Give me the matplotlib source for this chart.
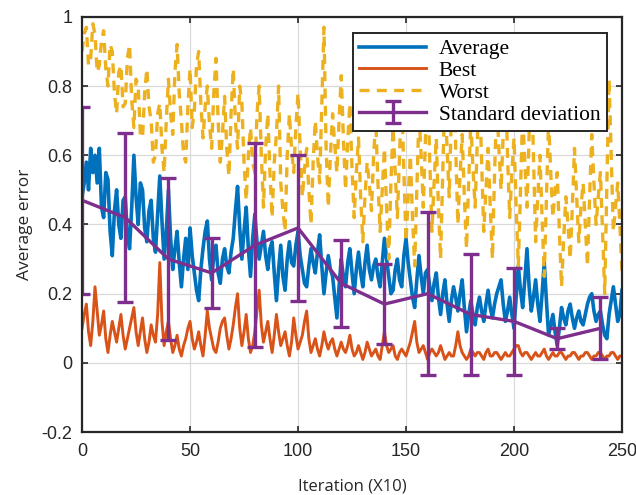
import numpy as np
import matplotlib
matplotlib.use("Agg")
import matplotlib.pyplot as plt
from matplotlib.ticker import FormatStrFormatter

# values, one per iteration step (x10), 0..250
average = [0.48, 0.52, 0.58, 0.50, 0.62, 0.55, 0.60, 0.52, 0.62, 0.45,
           0.42, 0.55, 0.53, 0.38, 0.31, 0.44, 0.50, 0.40, 0.36, 0.47,
           0.48, 0.37, 0.33, 0.45, 0.60, 0.48, 0.40, 0.52, 0.50, 0.39,
           0.35, 0.44, 0.47, 0.36, 0.32, 0.43, 0.54, 0.41, 0.30, 0.38,
           0.50, 0.36, 0.27, 0.33, 0.38, 0.29, 0.22, 0.30, 0.36, 0.27,
           0.39, 0.31, 0.26, 0.21, 0.18, 0.27, 0.33, 0.38, 0.41, 0.30,
           0.24, 0.31, 0.34, 0.26, 0.23, 0.30, 0.33, 0.28, 0.26, 0.32,
           0.36, 0.44, 0.51, 0.39, 0.30, 0.38, 0.45, 0.33, 0.25, 0.36,
           0.43, 0.35, 0.30, 0.34, 0.38, 0.31, 0.27, 0.33, 0.35, 0.26,
           0.18, 0.27, 0.34, 0.25, 0.21, 0.30, 0.35, 0.29, 0.28, 0.34,
           0.38, 0.31, 0.27, 0.23, 0.22, 0.28, 0.33, 0.29, 0.26, 0.32,
           0.37, 0.28, 0.20, 0.26, 0.31, 0.27, 0.25, 0.19, 0.13, 0.22,
           0.30, 0.25, 0.22, 0.29, 0.33, 0.26, 0.20, 0.27, 0.32, 0.26,
           0.22, 0.29, 0.34, 0.27, 0.24, 0.28, 0.30, 0.25, 0.22, 0.29,
           0.36, 0.30, 0.25, 0.20, 0.21, 0.27, 0.30, 0.24, 0.22, 0.31,
           0.36, 0.29, 0.24, 0.19, 0.16, 0.24, 0.31, 0.25, 0.20, 0.26,
           0.27, 0.22, 0.18, 0.23, 0.26, 0.19, 0.14, 0.20, 0.24, 0.17,
           0.12, 0.18, 0.22, 0.19, 0.15, 0.20, 0.24, 0.16, 0.09, 0.14,
           0.18, 0.14, 0.11, 0.16, 0.19, 0.15, 0.12, 0.17, 0.21, 0.16,
           0.13, 0.17, 0.20, 0.22, 0.24, 0.17, 0.12, 0.15, 0.19, 0.14,
           0.10, 0.19, 0.28, 0.21, 0.16, 0.24, 0.33, 0.22, 0.15, 0.19,
           0.24, 0.17, 0.12, 0.20, 0.29, 0.18, 0.08, 0.11, 0.14, 0.09,
           0.05, 0.10, 0.16, 0.13, 0.11, 0.15, 0.17, 0.13, 0.10, 0.13,
           0.15, 0.12, 0.11, 0.14, 0.17, 0.19, 0.20, 0.15, 0.12, 0.14,
           0.15, 0.11, 0.08, 0.07, 0.14, 0.18, 0.22, 0.17, 0.12, 0.14,
           0.21]

best = [0.10, 0.14, 0.17, 0.09, 0.05, 0.12, 0.22, 0.15, 0.08, 0.11,
        0.15, 0.07, 0.03, 0.08, 0.12, 0.09, 0.06, 0.10, 0.14, 0.08,
        0.04, 0.07, 0.10, 0.13, 0.16, 0.09, 0.05, 0.09, 0.13, 0.07,
        0.03, 0.06, 0.11, 0.08, 0.06, 0.14, 0.29, 0.12, 0.05, 0.09,
        0.12, 0.07, 0.03, 0.05, 0.08, 0.04, 0.02, 0.05, 0.07, 0.10,
        0.12, 0.07, 0.04, 0.06, 0.09, 0.05, 0.02, 0.08, 0.15, 0.10,
        0.07, 0.04, 0.03, 0.06, 0.10, 0.12, 0.13, 0.08, 0.04, 0.07,
        0.11, 0.16, 0.20, 0.10, 0.05, 0.09, 0.14, 0.07, 0.03, 0.05,
        0.09, 0.15, 0.21, 0.11, 0.06, 0.09, 0.12, 0.07, 0.03, 0.08,
        0.14, 0.09, 0.05, 0.07, 0.09, 0.05, 0.02, 0.06, 0.13, 0.08,
        0.04, 0.06, 0.08, 0.12, 0.15, 0.07, 0.03, 0.05, 0.07, 0.04,
        0.02, 0.05, 0.09, 0.06, 0.04, 0.06, 0.07, 0.04, 0.02, 0.04,
        0.06, 0.04, 0.03, 0.05, 0.08, 0.04, 0.02, 0.03, 0.05, 0.03,
        0.01, 0.03, 0.06, 0.04, 0.02, 0.03, 0.04, 0.02, 0.01, 0.05,
        0.09, 0.05, 0.03, 0.04, 0.05, 0.02, 0.01, 0.03, 0.04, 0.03,
        0.02, 0.04, 0.06, 0.09, 0.12, 0.06, 0.03, 0.04, 0.05, 0.03,
        0.01, 0.03, 0.04, 0.03, 0.02, 0.03, 0.05, 0.03, 0.01, 0.02,
        0.03, 0.02, 0.02, 0.05, 0.09, 0.05, 0.03, 0.02, 0.01, 0.02,
        0.04, 0.03, 0.02, 0.03, 0.03, 0.02, 0.01, 0.03, 0.04, 0.02,
        0.02, 0.03, 0.03, 0.02, 0.01, 0.02, 0.03, 0.02, 0.02, 0.03,
        0.04, 0.05, 0.05, 0.03, 0.02, 0.03, 0.03, 0.02, 0.01, 0.02,
        0.03, 0.02, 0.02, 0.03, 0.04, 0.02, 0.01, 0.02, 0.03, 0.02,
        0.02, 0.03, 0.03, 0.02, 0.01, 0.02, 0.02, 0.03, 0.03, 0.02,
        0.01, 0.02, 0.02, 0.03, 0.03, 0.02, 0.01, 0.02, 0.02, 0.03,
        0.03, 0.02, 0.01, 0.02, 0.02, 0.03, 0.03, 0.02, 0.01, 0.02,
        0.02]

worst = [0.90, 0.95, 0.97, 0.86, 0.88, 0.98, 0.95, 0.84, 0.86, 0.93,
         0.96, 0.85, 0.80, 0.92, 0.90, 0.78, 0.72, 0.84, 0.86, 0.74,
         0.75, 0.88, 0.92, 0.76, 0.68, 0.82, 0.80, 0.66, 0.65, 0.78,
         0.85, 0.74, 0.70, 0.58, 0.60, 0.72, 0.75, 0.62, 0.55, 0.70,
         0.82, 0.72, 0.66, 0.84, 0.92, 0.78, 0.70, 0.60, 0.58, 0.74,
         0.85, 0.68, 0.73, 0.86, 0.90, 0.75, 0.65, 0.74, 0.80, 0.69,
         0.62, 0.78, 0.88, 0.70, 0.58, 0.66, 0.77, 0.62, 0.54, 0.72,
         0.85, 0.70, 0.62, 0.80, 0.75, 0.58, 0.47, 0.60, 0.68, 0.58,
         0.55, 0.72, 0.80, 0.60, 0.45, 0.62, 0.72, 0.55, 0.42, 0.58,
         0.66, 0.80, 0.52, 0.44, 0.38, 0.60, 0.72, 0.62, 0.55, 0.68,
         0.78, 0.62, 0.48, 0.56, 0.62, 0.50, 0.40, 0.58, 0.70, 0.60,
         0.52, 0.75, 0.97, 0.62, 0.45, 0.60, 0.72, 0.63, 0.55, 0.70,
         0.83, 0.65, 0.50, 0.64, 0.75, 0.56, 0.42, 0.55, 0.65, 0.48,
         0.35, 0.48, 0.58, 0.52, 0.44, 0.60, 0.70, 0.52, 0.38, 0.50,
         0.62, 0.45, 0.30, 0.52, 0.68, 0.55, 0.42, 0.60, 0.78, 0.55,
         0.35, 0.48, 0.60, 0.42, 0.28, 0.50, 0.72, 0.60, 0.45, 0.65,
         0.82, 0.58, 0.38, 0.52, 0.65, 0.45, 0.30, 0.55, 0.78, 0.62,
         0.48, 0.72, 0.90, 0.62, 0.40, 0.54, 0.66, 0.48, 0.33, 0.52,
         0.70, 0.56, 0.45, 0.64, 0.80, 0.58, 0.38, 0.50, 0.62, 0.45,
         0.30, 0.55, 0.75, 0.62, 0.50, 0.66, 0.82, 0.60, 0.42, 0.55,
         0.65, 0.45, 0.28, 0.50, 0.72, 0.58, 0.45, 0.66, 0.85, 0.60,
         0.35, 0.48, 0.60, 0.42, 0.25, 0.48, 0.70, 0.55, 0.42, 0.50,
         0.55, 0.38, 0.22, 0.36, 0.48, 0.40, 0.30, 0.45, 0.62, 0.48,
         0.35, 0.45, 0.52, 0.40, 0.28, 0.48, 0.66, 0.52, 0.40, 0.48,
         0.55, 0.38, 0.20, 0.52, 0.82, 0.60, 0.38, 0.45, 0.52, 0.40,
         0.26]

std_iter = [0, 20, 40, 60, 80, 100, 120, 140, 160, 180, 200, 220, 240]
std_mean = [0.47, 0.42, 0.30, 0.26, 0.34, 0.39, 0.23, 0.17, 0.20, 0.14, 0.12, 0.07, 0.10]
std_dev = [0.27, 0.245, 0.235, 0.10, 0.295, 0.21, 0.125, 0.115, 0.235, 0.175, 0.155, 0.03, 0.09]

fig = plt.figure(figsize=(6.36, 4.95), dpi=100)
ax = fig.add_axes([0.129, 0.127, 0.849, 0.839])

ax.plot(np.arange(len(average)), average, color='#0072BD', lw=2.6, label='Average')
ax.plot(np.arange(len(best)), best, color='#D95319', lw=2.1, label='Best')
ax.plot(np.arange(len(worst)), worst, color='#EDB120', lw=2.4,
        ls=(0, (3.0, 2.2)), label='Worst')
ax.errorbar(std_iter, std_mean, yerr=std_dev, color='#7E2F8E', lw=2.4,
            elinewidth=2.4, capsize=5.5, capthick=2.4, label='Standard deviation')

ax.set_xlim(0, 250)
ax.set_ylim(-0.2, 1)
ax.set_xticks([0, 50, 100, 150, 200, 250])
ax.set_yticks([-0.2, 0, 0.2, 0.4, 0.6, 0.8, 1])
ax.yaxis.set_major_formatter(FormatStrFormatter('%g'))
ax.grid(True, color='#d9d9d9', lw=0.9)
ax.set_axisbelow(True)
ax.tick_params(direction='in', top=True, right=True, length=4, width=1.2,
               labelsize=13, colors='#262626')
ax.tick_params(axis='x', pad=8)
ax.tick_params(axis='y', pad=7)
for lab in ax.get_xticklabels() + ax.get_yticklabels():
    lab.set_family('Liberation Sans')
for sp in ax.spines.values():
    sp.set_color('#262626')
    sp.set_linewidth(1.6)

ax.set_xlabel('Iteration (X10)', fontsize=12, family='Open Sans', color='#262626', labelpad=13)
ax.set_ylabel('Average error', fontsize=12.5, family='Open Sans', color='#262626', labelpad=6)

leg = ax.legend(loc='upper right', bbox_to_anchor=(0.972, 0.962), borderaxespad=0,
                prop={'family': 'Liberation Serif', 'size': 15.5},
                handlelength=3.1, labelspacing=0.08, borderpad=0.3,
                handletextpad=0.6, fancybox=False, framealpha=1,
                edgecolor='#262626')
leg.get_frame().set_linewidth(1.4)

fig.savefig('out.png', dpi=100)
